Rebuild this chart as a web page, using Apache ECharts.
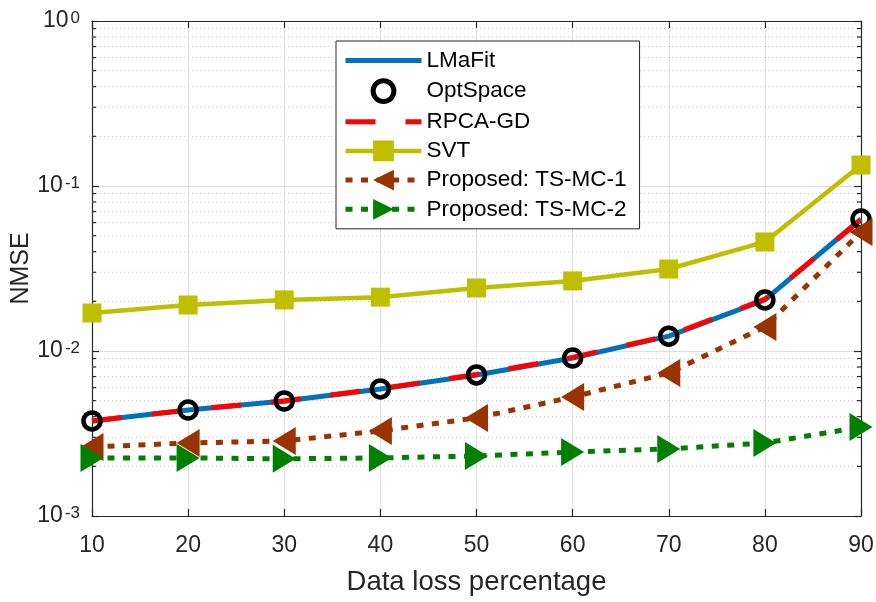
<!DOCTYPE html>
<html>
<head>
<meta charset="utf-8">
<script src="https://cdn.jsdelivr.net/npm/echarts@6/dist/echarts.min.js"></script>
<style>
  html, body { margin: 0; padding: 0; background: #ffffff; }
  #chart { width: 876px; height: 602px; }
</style>
</head>
<body>
<div id="chart"></div>
<script>
// Data loss percentage (x) and NMSE per method (log y)
const lossPct   = [10, 20, 30, 40, 50, 60, 70, 80, 90];
const lmafit    = [0.00377, 0.00439, 0.00498, 0.00589, 0.00716, 0.00907, 0.0123, 0.0204, 0.0631];
const optspace  = [0.00377, 0.00439, 0.00498, 0.00589, 0.00716, 0.00907, 0.0123, 0.0204, 0.0631];
const rpcagd    = [0.00377, 0.00439, 0.00498, 0.00591, 0.00720, 0.00915, 0.0124, 0.0206, 0.0625];
const svt       = [0.0170, 0.0190, 0.0204, 0.0212, 0.0241, 0.0266, 0.0314, 0.0458, 0.134];
const tsmc1     = [0.00262, 0.00277, 0.00285, 0.00328, 0.00393, 0.00526, 0.00736, 0.0140, 0.0526];
const tsmc2     = [0.00225, 0.00225, 0.00222, 0.00225, 0.00231, 0.00244, 0.00255, 0.00277, 0.00346];

// Axis ticks
const xTicks = [10, 20, 30, 40, 50, 60, 70, 80, 90];
const yDecades = [-3, -2, -1, 0];
const minorFactors = [2, 3, 4, 5, 6, 7, 8, 9];

const TXT = '#262626';
const FONT = '"Liberation Sans", Arial, Helvetica, sans-serif';

const pts = ys => lossPct.map((x, i) => [x, ys[i]]);

// minor log positions (2..9 x 10^e) inside the displayed range
const minorVals = [];
yDecades.slice(0, -1).forEach(e => minorFactors.forEach(f => minorVals.push([f * Math.pow(10, e)])));

const chart = echarts.init(document.getElementById('chart'), null, { renderer: 'canvas' });

const yLabel = v => {
  const e = Math.round(Math.log10(v));
  return '{b|10}{s|' + e + '}';
};

const axisCommon = {
  axisLine: { show: true, onZero: false, lineStyle: { color: TXT, width: 1.2 } },
  axisTick: { show: true, inside: true, length: 7, lineStyle: { color: TXT, width: 1.2 } }
};

// series styles, shared by the plot and the legend icons
const S = {
  lmafit: { color: '#0072BD', width: 5 },
  rpca:   { color: '#FF0000', width: 5, dash: [30, 30] },
  svt:    { color: '#BFBF00', width: 4.5 },
  ts1:    { color: '#993300', width: 5, dash: [7, 8.5] },
  ts2:    { color: '#008000', width: 5, dash: [7, 8.5] }
};

chart.setOption({
  animation: false,
  backgroundColor: '#ffffff',
  textStyle: { fontFamily: FONT },
  grid: { left: 92, right: 15, top: 21, bottom: 86, containLabel: false, outerBoundsMode: 'none' },
  xAxis: [
    Object.assign({
      type: 'value', min: xTicks[0], max: xTicks[xTicks.length - 1], interval: 10,
      position: 'bottom',
      name: 'Data loss percentage', nameLocation: 'middle', nameGap: 52, nameMoveOverlap: false,
      nameTextStyle: { fontSize: 27.5, color: TXT, fontFamily: FONT },
      axisLabel: { fontSize: 23, color: TXT, margin: 18, fontFamily: FONT },
      splitLine: { show: true, lineStyle: { color: '#dfdfdf', width: 1 } }
    }, axisCommon),
    Object.assign({
      type: 'value', min: xTicks[0], max: xTicks[xTicks.length - 1], interval: 10,
      position: 'top', axisLabel: { show: false }, splitLine: { show: false }
    }, axisCommon)
  ],
  yAxis: [
    Object.assign({
      type: 'log', logBase: 10, min: 0.001, max: 1,
      position: 'left',
      name: 'NMSE', nameLocation: 'middle', nameGap: 58, nameRotate: 90, nameMoveOverlap: false,
      nameTextStyle: { fontSize: 25, color: TXT, fontFamily: FONT },
      axisLabel: {
        margin: 12, color: TXT, formatter: yLabel,
        rich: {
          b: { fontSize: 23, color: TXT, fontFamily: FONT, lineHeight: 23, padding: [7, 0, 0, 0], verticalAlign: 'bottom' },
          s: { fontSize: 17, color: TXT, fontFamily: FONT, lineHeight: 17, verticalAlign: 'top', padding: [0, 0, 0, 2] }
        }
      },
      splitLine: { show: true, lineStyle: { color: '#dfdfdf', width: 1 } }
    }, axisCommon),
    Object.assign({
      type: 'log', logBase: 10, min: 0.001, max: 1,
      position: 'right', axisLabel: { show: false }, splitLine: { show: false }
    }, axisCommon)
  ],
  legend: {
    orient: 'vertical',
    left: 336, top: 41,
    padding: [8, 13, 8, 7],
    itemWidth: 76, itemHeight: 26, itemGap: 6.2,
    backgroundColor: '#ffffff',
    borderColor: TXT, borderWidth: 1, borderRadius: 0,
    textStyle: { fontSize: 22.5, color: '#000000', fontFamily: FONT },
    data: [
      { name: 'LMaFit', itemStyle: { opacity: 0 }, lineStyle: { width: S.lmafit.width } },
      { name: 'OptSpace', itemStyle: { borderWidth: 5, borderColor: '#000000', color: 'rgba(0,0,0,0)' }, lineStyle: { width: 0, opacity: 0 } },
      { name: 'RPCA-GD', itemStyle: { opacity: 0 }, lineStyle: { width: S.rpca.width } },
      { name: 'SVT', lineStyle: { width: S.svt.width } },
      { name: 'Proposed: TS-MC-1', lineStyle: { width: S.ts1.width } },
      { name: 'Proposed: TS-MC-2', lineStyle: { width: S.ts2.width } }
    ]
  },
  series: [
    {
      // dotted minor grid lines and minor ticks of the log axis
      type: 'custom', name: 'minor', silent: true, z: 1,
      xAxisIndex: 0, yAxisIndex: 0,
      data: minorVals,
      encode: { y: 0 },
      renderItem: (params, api) => {
        const cs = params.coordSys;
        const y = api.coord([xTicks[0], api.value(0)])[1];
        const style = { stroke: TXT, lineWidth: 1.2 };
        return {
          type: 'group',
          children: [
            { type: 'line', shape: { x1: cs.x, y1: y, x2: cs.x + cs.width, y2: y },
              style: { stroke: '#c9c9c9', lineWidth: 1, lineDash: [1, 3] } },
            { type: 'line', shape: { x1: cs.x, y1: y, x2: cs.x + 4, y2: y }, style },
            { type: 'line', shape: { x1: cs.x + cs.width - 4, y1: y, x2: cs.x + cs.width, y2: y }, style }
          ]
        };
      }
    },
    {
      name: 'LMaFit', type: 'line', data: pts(lmafit), z: 3,
      symbol: 'none',
      lineStyle: { color: S.lmafit.color, width: S.lmafit.width },
      itemStyle: { color: S.lmafit.color }
    },
    {
      name: 'OptSpace', type: 'line', data: pts(optspace), z: 3,
      symbol: 'circle', symbolSize: 17,
      lineStyle: { width: 0, opacity: 0 },
      itemStyle: { color: 'rgba(0,0,0,0)', borderColor: '#000000', borderWidth: 4.5 }
    },
    {
      name: 'RPCA-GD', type: 'line', data: pts(rpcagd), z: 3,
      symbol: 'none',
      lineStyle: { color: S.rpca.color, width: S.rpca.width, type: S.rpca.dash, cap: 'butt' },
      itemStyle: { color: S.rpca.color }
    },
    {
      name: 'SVT', type: 'line', data: pts(svt), z: 3,
      symbol: 'rect', symbolSize: 19,
      lineStyle: { color: S.svt.color, width: S.svt.width },
      itemStyle: { color: S.svt.color }
    },
    {
      name: 'Proposed: TS-MC-1', type: 'line', data: pts(tsmc1), z: 3,
      symbol: 'triangle', symbolSize: [28, 23], symbolRotate: 90,
      lineStyle: { color: S.ts1.color, width: S.ts1.width, type: S.ts1.dash, cap: 'butt' },
      itemStyle: { color: S.ts1.color }
    },
    {
      name: 'Proposed: TS-MC-2', type: 'line', data: pts(tsmc2), z: 3,
      symbol: 'triangle', symbolSize: [28, 23], symbolRotate: -90,
      lineStyle: { color: S.ts2.color, width: S.ts2.width, type: S.ts2.dash, cap: 'butt' },
      itemStyle: { color: S.ts2.color }
    }
  ]
});
</script>
</body>
</html>
